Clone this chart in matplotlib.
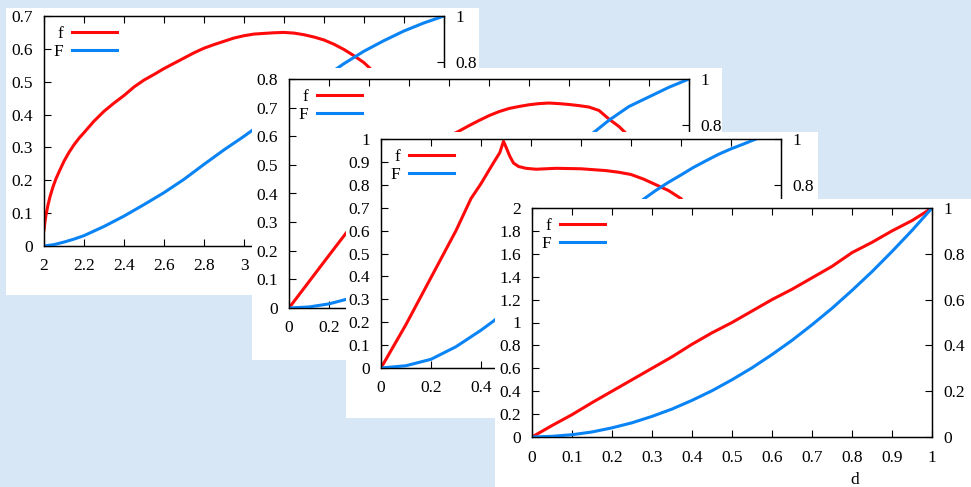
import matplotlib
matplotlib.use('Agg')
import matplotlib.pyplot as plt
from matplotlib.patches import Rectangle
from matplotlib.ticker import MultipleLocator, FuncFormatter

# ---------------- data ----------------
# Panel 1 (back): d in [2, 4]
p1_x = [2.0, 2.005, 2.01, 2.02, 2.03, 2.045, 2.06, 2.08, 2.1, 2.125, 2.15, 2.175,
        2.2, 2.25, 2.3, 2.35, 2.4, 2.45, 2.5, 2.55, 2.6, 2.65, 2.7, 2.75, 2.8,
        2.85, 2.9, 2.95, 3.0, 3.05, 3.1, 3.15, 3.2, 3.25, 3.3, 3.35, 3.4, 3.45,
        3.5, 3.55, 3.6, 3.7, 3.8, 3.9, 4.0]
p1_f = [0.049, 0.075, 0.095, 0.125, 0.15, 0.18, 0.205, 0.232, 0.258, 0.285,
        0.308, 0.328, 0.345, 0.38, 0.41, 0.435, 0.458, 0.484, 0.505, 0.522,
        0.54, 0.556, 0.572, 0.588, 0.602, 0.613, 0.623, 0.633, 0.64, 0.645,
        0.647, 0.649, 0.65, 0.648, 0.643, 0.636, 0.627, 0.614, 0.598, 0.579,
        0.558, 0.5, 0.43, 0.36, 0.3]
p1_xF = [2.0, 2.05, 2.1, 2.15, 2.2, 2.3, 2.4, 2.5, 2.6, 2.7, 2.8, 2.9, 3.0, 3.1,
         3.2, 3.3, 3.4, 3.5, 3.6, 3.7, 3.8, 3.9, 4.0]
p1_F = [0.0, 0.006, 0.017, 0.03, 0.045, 0.085, 0.13, 0.18, 0.232, 0.29, 0.355,
        0.418, 0.477, 0.54, 0.605, 0.67, 0.733, 0.793, 0.847, 0.893, 0.935,
        0.97, 1.0]

# Panel 2: d in [0, 2]
p2_x = [0.0, 0.1, 0.2, 0.3, 0.4, 0.5, 0.6, 0.7, 0.8, 0.85, 0.9, 0.95, 1.0,
        1.05, 1.1, 1.15, 1.2, 1.25, 1.3, 1.35, 1.4, 1.45, 1.5, 1.55, 1.6, 1.65,
        1.7, 1.75, 1.8, 1.9, 2.0]
p2_f = [0.0, 0.092, 0.184, 0.275, 0.36, 0.44, 0.51, 0.56, 0.6, 0.618, 0.637,
        0.655, 0.672, 0.686, 0.697, 0.704, 0.71, 0.714, 0.716, 0.714, 0.711,
        0.707, 0.702, 0.69, 0.66, 0.634, 0.6, 0.5, 0.42, 0.4, 0.35]
p2_xF = [0.0, 0.1, 0.2, 0.3, 0.4, 0.5, 0.6, 0.7, 0.8, 0.9, 1.0, 1.1, 1.2, 1.3,
         1.4, 1.5, 1.6, 1.7, 1.8, 1.9, 2.0]
p2_F = [0.0, 0.0046, 0.018, 0.041, 0.073, 0.113, 0.16, 0.214, 0.272, 0.334,
        0.4, 0.468, 0.538, 0.61, 0.68, 0.75, 0.82, 0.88, 0.922, 0.964, 1.0]

# Panel 3: d in [0, 1.6]
p3_x = [0.0, 0.1, 0.2, 0.3, 0.36, 0.4, 0.43, 0.455, 0.475, 0.49, 0.5, 0.515,
        0.53, 0.55, 0.58, 0.62, 0.7, 0.8, 0.9, 0.95, 1.0, 1.05, 1.1, 1.15, 1.2,
        1.25, 1.3, 1.35, 1.4, 1.45, 1.5]
p3_f = [0.0, 0.19, 0.395, 0.6, 0.74, 0.805, 0.86, 0.905, 0.94, 0.99, 0.965,
        0.925, 0.895, 0.88, 0.872, 0.868, 0.872, 0.87, 0.862, 0.855, 0.845,
        0.825, 0.8, 0.775, 0.74, 0.66, 0.6, 0.53, 0.45, 0.33, 0.15]
p3_xF = [0.0, 0.1, 0.2, 0.3, 0.4, 0.45, 0.5, 0.6, 0.7, 0.8, 0.9, 1.0, 1.05,
         1.1, 1.15, 1.2, 1.25, 1.3, 1.35, 1.4, 1.45, 1.5]
p3_F = [0.0, 0.01, 0.038, 0.093, 0.165, 0.205, 0.25, 0.34, 0.428, 0.515,
        0.604, 0.69, 0.737, 0.776, 0.811, 0.843, 0.876, 0.905, 0.933, 0.957,
        0.978, 1.0]

# Panel 4 (front): d in [0, 1]
p4_x = [0.0, 0.05, 0.1, 0.15, 0.2, 0.25, 0.3, 0.35, 0.4, 0.45, 0.5, 0.55, 0.6,
        0.65, 0.7, 0.75, 0.8, 0.85, 0.9, 0.95, 1.0]
p4_f = [0.0, 0.1, 0.195, 0.3, 0.4, 0.5, 0.6, 0.7, 0.81, 0.91, 1.0, 1.1, 1.2,
        1.29, 1.39, 1.49, 1.61, 1.7, 1.8, 1.89, 2.0]
p4_xF = p4_x
p4_F = [0.0, 0.003, 0.01, 0.022, 0.04, 0.062, 0.09, 0.122, 0.16, 0.202, 0.25,
        0.302, 0.36, 0.422, 0.49, 0.562, 0.64, 0.722, 0.81, 0.902, 1.0]

legend_labels = ['f', 'F']
x_label = 'd'

# ---------------- style ----------------
plt.rcParams['font.family'] = ['Liberation Serif', 'DejaVu Serif']
FS = 12.5
plt.rcParams['font.size'] = FS

RED = '#ff0a0a'
BLUE = '#0a84f5'
BG = '#d8e7f5'
W, H = 971, 487

fig = plt.figure(figsize=(W / 100, H / 100), dpi=100, facecolor=BG)


def frect(x0, y0, x1, y1):
    return [x0 / W, 1 - y1 / H, (x1 - x0) / W, (y1 - y0) / H]


fmt = FuncFormatter(lambda v, p: f'{round(v, 6):g}')

panels = [
    dict(box=(6, 8, 479, 295), ax=(44, 16, 444, 246), x=p1_x, f=p1_f, xF=p1_xF, F=p1_F,
         xlim=(2, 4), ylim=(0, 0.7), xstep=0.2, ystep=0.1),
    dict(box=(252, 68, 722, 360), ax=(289, 79, 689, 308), x=p2_x, f=p2_f, xF=p2_xF, F=p2_F,
         xlim=(0, 2), ylim=(0, 0.8), xstep=0.2, ystep=0.1),
    dict(box=(346, 132, 818, 418), ax=(381, 139, 781, 368), x=p3_x, f=p3_f, xF=p3_xF, F=p3_F,
         xlim=(0, 1.6), ylim=(0, 1.0), xstep=0.2, ystep=0.1),
    dict(box=(495, 199, 971, 487), ax=(532, 208, 932, 437), x=p4_x, f=p4_f, xF=p4_xF, F=p4_F,
         xlim=(0, 1), ylim=(0, 2.0), xstep=0.1, ystep=0.2),
]

axes_pairs = []
for i, p in enumerate(panels):
    z = 3 * i + 1
    r = frect(*p['box'])
    fig.add_artist(Rectangle((r[0], r[1]), r[2], r[3], transform=fig.transFigure,
                             facecolor='white', edgecolor='none', zorder=z))
    ax = fig.add_axes(frect(*p['ax']))
    ax.set_zorder(z + 1)
    ax.set_facecolor('white')
    ln1, = ax.plot(p['x'], p['f'], color=RED, lw=2.2, label=legend_labels[0],
                   solid_joinstyle='round')
    ax.set_xlim(*p['xlim'])
    ax.set_ylim(*p['ylim'])
    ax.xaxis.set_major_locator(MultipleLocator(p['xstep']))
    ax.yaxis.set_major_locator(MultipleLocator(p['ystep']))
    ax.xaxis.set_major_formatter(fmt)
    ax.yaxis.set_major_formatter(fmt)
    ax.tick_params(axis='both', direction='in', length=5, width=0.8, top=True,
                   right=False, labelsize=FS, color='black')
    ax.tick_params(axis='y', pad=8)
    ax.tick_params(axis='x', pad=9)
    for s in ax.spines.values():
        s.set_linewidth(0.9)
    ax.set_xlabel(x_label, fontsize=FS)
    ax.xaxis.set_label_coords(0.8075, -0.155)
    ax.xaxis.label.set_va('top')

    ax2 = ax.twinx()
    ax2.set_zorder(z + 2)
    ln2, = ax2.plot(p['xF'], p['F'], color=BLUE, lw=2.2, label=legend_labels[1],
                    solid_joinstyle='round')
    ax2.set_ylim(0, 1)
    ax2.yaxis.set_major_locator(MultipleLocator(0.2))
    ax2.yaxis.set_major_formatter(fmt)
    ax2.tick_params(axis='y', direction='in', length=5, width=0.8, labelsize=FS, pad=8)
    for s in ax2.spines.values():
        s.set_linewidth(0.9)

    ax2.legend(handles=[ln1, ln2], loc='upper left', frameon=False, markerfirst=False,
               handlelength=2.6, handletextpad=0.5, labelspacing=0.12,
               borderaxespad=0.25, borderpad=0.3, fontsize=FS)
    axes_pairs.append((ax, ax2))

# Texts of a back panel that lie wholly under a front panel's card cannot be
# seen (as in the reference); switch them off so they do not collide.
fig.canvas.draw()
renderer = fig.canvas.get_renderer()
for i, (ax, ax2) in enumerate(axes_pairs):
    texts = (ax.get_xticklabels() + ax.get_yticklabels() + ax2.get_yticklabels()
             + [ax.xaxis.label])
    fronts = []
    for p in panels[i + 1:]:
        x0, y0, x1, y1 = p['box']
        fronts.append((x0, H - y1, x1, H - y0))
    for t in texts:
        if not t.get_visible() or not t.get_text():
            continue
        bb = t.get_window_extent(renderer)
        for (a0, b0, a1, b1) in fronts:
            if bb.x0 >= a0 and bb.x1 <= a1 and bb.y0 >= b0 and bb.y1 <= b1:
                t.set_visible(False)
                break

fig.savefig('out.png', dpi=100, facecolor=BG)
